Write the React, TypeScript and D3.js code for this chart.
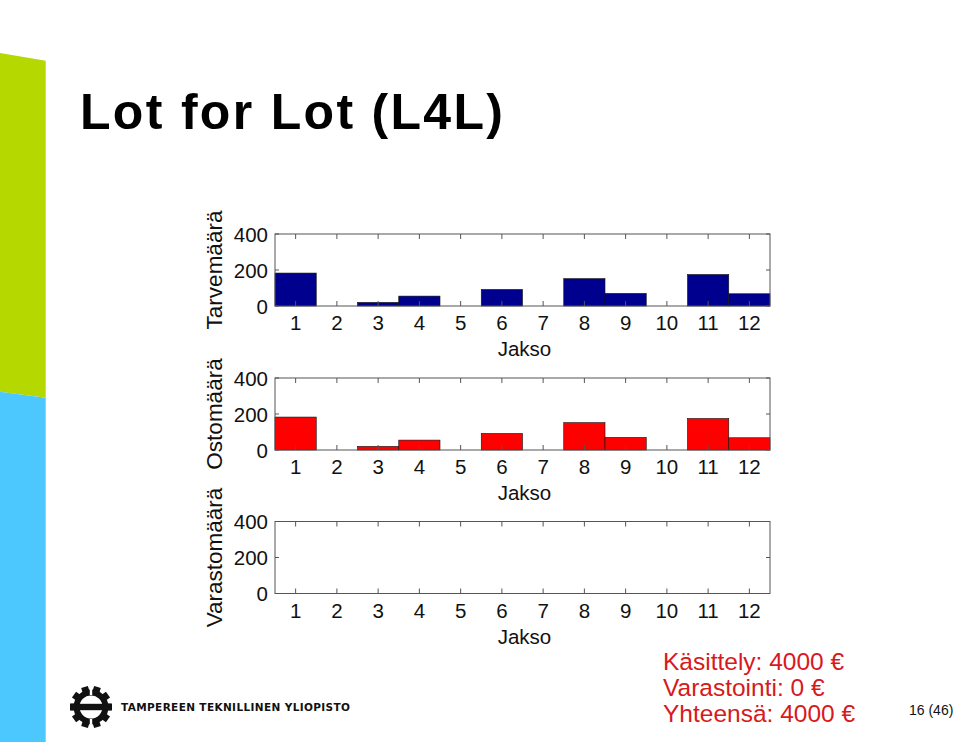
import * as d3 from "d3";

// Jakso (period) numbers and per-panel values
const periods = [1, 2, 3, 4, 5, 6, 7, 8, 9, 10, 11, 12];
const tarvemaara = [183, 0, 20, 55, 0, 92, 0, 152, 70, 0, 175, 68];
const ostomaara = [183, 0, 20, 55, 0, 92, 0, 152, 70, 0, 175, 68];
const varastomaara = [0, 0, 0, 0, 0, 0, 0, 0, 0, 0, 0, 0];
const yTicks = [0, 200, 400];
const costLines = ["Käsittely: 4000 €", "Varastointi: 0 €", "Yhteensä: 4000 €"];

const FONT = "'Liberation Sans', Arial, Helvetica, sans-serif";

const panels = [
  { label: "Tarvemäärä", values: tarvemaara, color: "#00008f", top: 234 },
  { label: "Ostomäärä", values: ostomaara, color: "#ff0000", top: 378 },
  { label: "Varastomäärä", values: varastomaara, color: "#00008f", top: 521.5 },
];

const W = 960;
const H = 742;
const plotLeft = 275;
const plotRight = 770;
const plotH = 72;

function Panel({ label, values, color, top }: { label: string; values: number[]; color: string; top: number }) {
  const x = d3.scaleLinear().domain([0.5, 12.5]).range([plotLeft, plotRight]);
  const y = d3.scaleLinear().domain([0, 400]).range([top + plotH, top]);
  const bottom = top + plotH;
  const tick = 5;
  return (
    <g>
      {periods.map((p, i) =>
        values[i] > 0 ? (
          <rect
            key={p}
            x={x(p - 0.5)}
            y={y(values[i])}
            width={x(p + 0.5) - x(p - 0.5)}
            height={y(0) - y(values[i])}
            fill={color}
            stroke="#111"
            strokeWidth={0.6}
          />
        ) : null,
      )}
      <rect x={plotLeft} y={top} width={plotRight - plotLeft} height={plotH} fill="none" stroke="#555" strokeWidth={1} />
      {periods.map((p) => (
        <g key={p}>
          <line x1={x(p)} x2={x(p)} y1={top} y2={top + tick} stroke="#555" />
          <line x1={x(p)} x2={x(p)} y1={bottom} y2={bottom - tick} stroke="#555" />
          <text x={x(p)} y={bottom + 24} textAnchor="middle" fontSize={20.5} fontFamily={FONT} fill="#111">
            {p}
          </text>
        </g>
      ))}
      {yTicks.map((t) => (
        <g key={t}>
          <line x1={plotLeft} x2={plotLeft + 4} y1={y(t)} y2={y(t)} stroke="#555" />
          <line x1={plotRight} x2={plotRight - 4} y1={y(t)} y2={y(t)} stroke="#555" />
          <text x={268} y={y(t) + 7.5} textAnchor="end" fontSize={20.5} fontFamily={FONT} fill="#111">
            {t}
          </text>
        </g>
      ))}
      <text x={(plotLeft + plotRight) / 2 + 2} y={bottom + 50} textAnchor="middle" fontSize={20.5} fontFamily={FONT} fill="#111">
        Jakso
      </text>
      <text
        transform={`translate(222,${top + plotH / 2}) rotate(-90)`}
        textAnchor="middle"
        fontSize={22.5}
        fontFamily={FONT}
        fill="#111"
      >
        {label}
      </text>
    </g>
  );
}

function Gear({ cx, cy }: { cx: number; cy: number }) {
  const angles = d3.range(0, 360, 36).map((a) => a + 18);
  return (
    <g transform={`translate(${cx},${cy})`}>
      {angles.map((a) => (
        <rect key={a} x={-3.5} y={-21} width={7} height={9} fill="#111" transform={`rotate(${a})`} />
      ))}
      <circle r={14.5} fill="none" stroke="#111" strokeWidth={6} />
      <rect x={-20} y={-3.2} width={40} height={6.4} fill="#111" />
      <rect x={-1.2} y={-22} width={2.4} height={10} fill="#fff" />
      <rect x={-1.2} y={12} width={2.4} height={10} fill="#fff" />
    </g>
  );
}

export default function App() {
  return (
    <svg
      width={W}
      height={H}
      viewBox={`0 0 ${W} ${H}`}
      style={{ position: "absolute", left: 0, top: 0, background: "#fff" }}
    >
      <rect width={W} height={H} fill="#fff" />
      <polygon points="0,53 45.7,60.7 45.7,397.7 0,391.7" fill="#b5d800" />
      <polygon points="0,391.7 45.7,397.7 45.7,742 0,742" fill="#4cc8ff" />
      <text
        x={80}
        y={128.5}
        fontSize={50}
        fontWeight="bold"
        fontFamily={FONT}
        textLength={423}
        lengthAdjust="spacing"
        fill="#000"
      >
        Lot for Lot (L4L)
      </text>
      {panels.map((p) => (
        <Panel key={p.label} {...p} />
      ))}
      <Gear cx={91} cy={707} />
      <text
        x={121}
        y={710.5}
        fontSize={10.5}
        fontWeight="bold"
        fontFamily="'DejaVu Sans', sans-serif"
        textLength={229}
        lengthAdjust="spacing"
        fill="#111"
      >
        TAMPEREEN TEKNILLINEN YLIOPISTO
      </text>
      {costLines.map((t, i) => (
        <text key={t} x={663} y={670 + i * 26} fontSize={24.5} fontFamily={FONT} fill="#d71920">
          {t}
        </text>
      ))}
      <text x={909} y={715} fontSize={14} fontFamily={FONT} fill="#111">
        16 (46)
      </text>
    </svg>
  );
}
